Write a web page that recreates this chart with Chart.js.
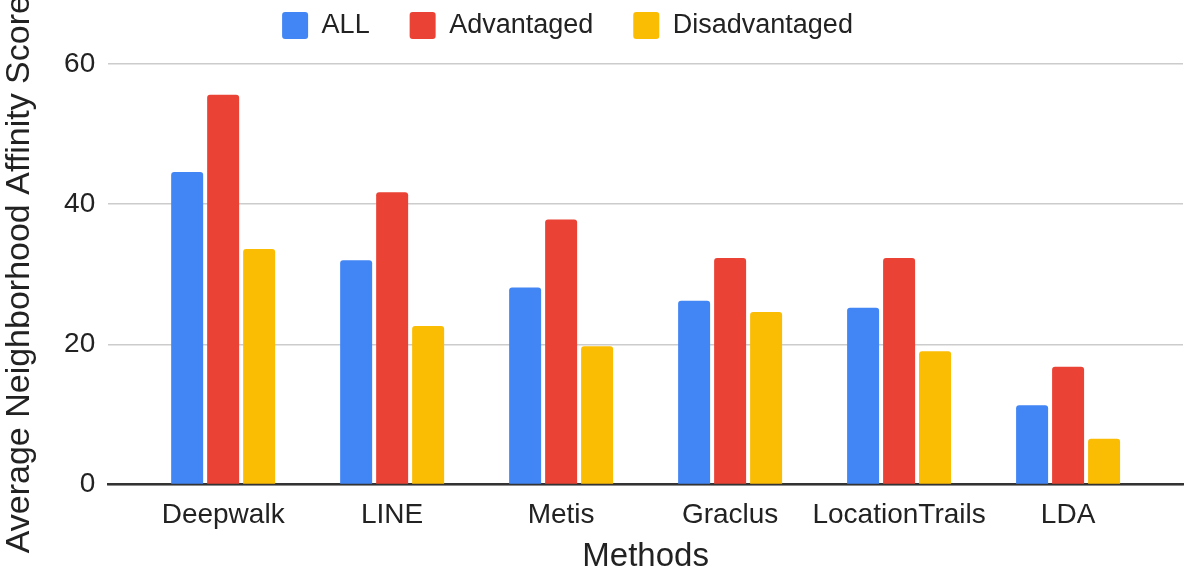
<!DOCTYPE html>
<html>
<head>
<meta charset="utf-8">
<style>
  html, body { margin: 0; padding: 0; background: #fff; }
  #wrap { width: 1184px; height: 576px; position: relative; }
</style>
<script src="https://cdn.jsdelivr.net/npm/chart.js@4.4.1/dist/chart.umd.min.js"></script>
</head>
<body>
<div id="wrap"><canvas id="chart"></canvas></div>
<script>
// --- data ---
const methods = ['Deepwalk', 'LINE', 'Metis', 'Graclus', 'LocationTrails', 'LDA'];
const allScores = [44.6, 32.0, 28.1, 26.2, 25.2, 11.3];
const advantagedScores = [55.6, 41.7, 37.8, 32.3, 32.3, 16.8];
const disadvantagedScores = [33.6, 22.6, 19.7, 24.6, 19.0, 6.5];
const yTicks = [0, 20, 40, 60];

const FONT = "'Liberation Sans', Arial, sans-serif";
const INK = '#222222';
// how far (in categories) the plot area extends past the first/last group
const EDGE = 0.68;

// legend spacing tweaks: push plot down a bit, shift legend left
const legendNudge = {
    id: 'legendNudge',
    beforeInit(chart) {
        const fit = chart.legend.fit;
        chart.legend.fit = function () {
            fit.call(this);
            this.height += 15;
        };
    },
    afterLayout(chart) {
        chart.legend.left -= 24;
        chart.legend.right -= 24;
    }
};

new Chart(document.getElementById('chart'), {
    type: 'bar',
    data: {
        labels: methods,
        datasets: [
            { label: 'ALL', data: allScores, backgroundColor: '#4285F4' },
            { label: 'Advantaged', data: advantagedScores, backgroundColor: '#EA4335' },
            { label: 'Disadvantaged', data: disadvantagedScores, backgroundColor: '#FBBC04' }
        ]
    },
    options: {
        responsive: true,
        maintainAspectRatio: false,
        animation: false,
        layout: { padding: { top: -28, right: 1, left: 0, bottom: 0 } },
        datasets: {
            bar: {
                categoryPercentage: 0.639,
                barPercentage: 0.889,
                borderRadius: 3,
                borderSkipped: 'start'
            }
        },
        plugins: {
            legend: {
                position: 'top',
                labels: {
                    color: INK,
                    font: { family: FONT, size: 27 },
                    boxWidth: 26,
                    boxHeight: 27,
                    padding: 40,
                    useBorderRadius: true,
                    borderRadius: 3
                }
            },
            tooltip: { enabled: false }
        },
        scales: {
            x: {
                offset: false,
                afterBuildTicks(axis) {
                    axis._startValue = -EDGE;
                    axis._valueRange = methods.length - 1 + 2 * EDGE;
                },
                grid: { display: false, drawTicks: false },
                border: { display: true, color: '#333333', width: 2.5 },
                ticks: {
                    color: INK,
                    font: { family: FONT, size: 28 },
                    padding: 14,
                    maxRotation: 0,
                    autoSkip: false
                },
                title: {
                    display: true,
                    text: 'Methods',
                    color: INK,
                    font: { family: FONT, size: 33, lineHeight: 1 },
                    padding: { top: -6, bottom: 3 }
                }
            },
            y: {
                min: 0,
                max: 60,
                afterBuildTicks(axis) {
                    axis.ticks = yTicks.map(v => ({ value: v }));
                },
                grid: { color: '#cccccc', lineWidth: 1.5, drawTicks: false },
                border: { display: false },
                ticks: {
                    color: INK,
                    font: { family: FONT, size: 28 },
                    padding: 13
                },
                title: {
                    display: true,
                    text: 'Average Neighborhood Affinity Score',
                    color: INK,
                    font: { family: FONT, size: 34, lineHeight: 1.15 },
                    padding: { top: 0, bottom: 12 }
                }
            }
        }
    },
    plugins: [legendNudge]
});
</script>
</body>
</html>
